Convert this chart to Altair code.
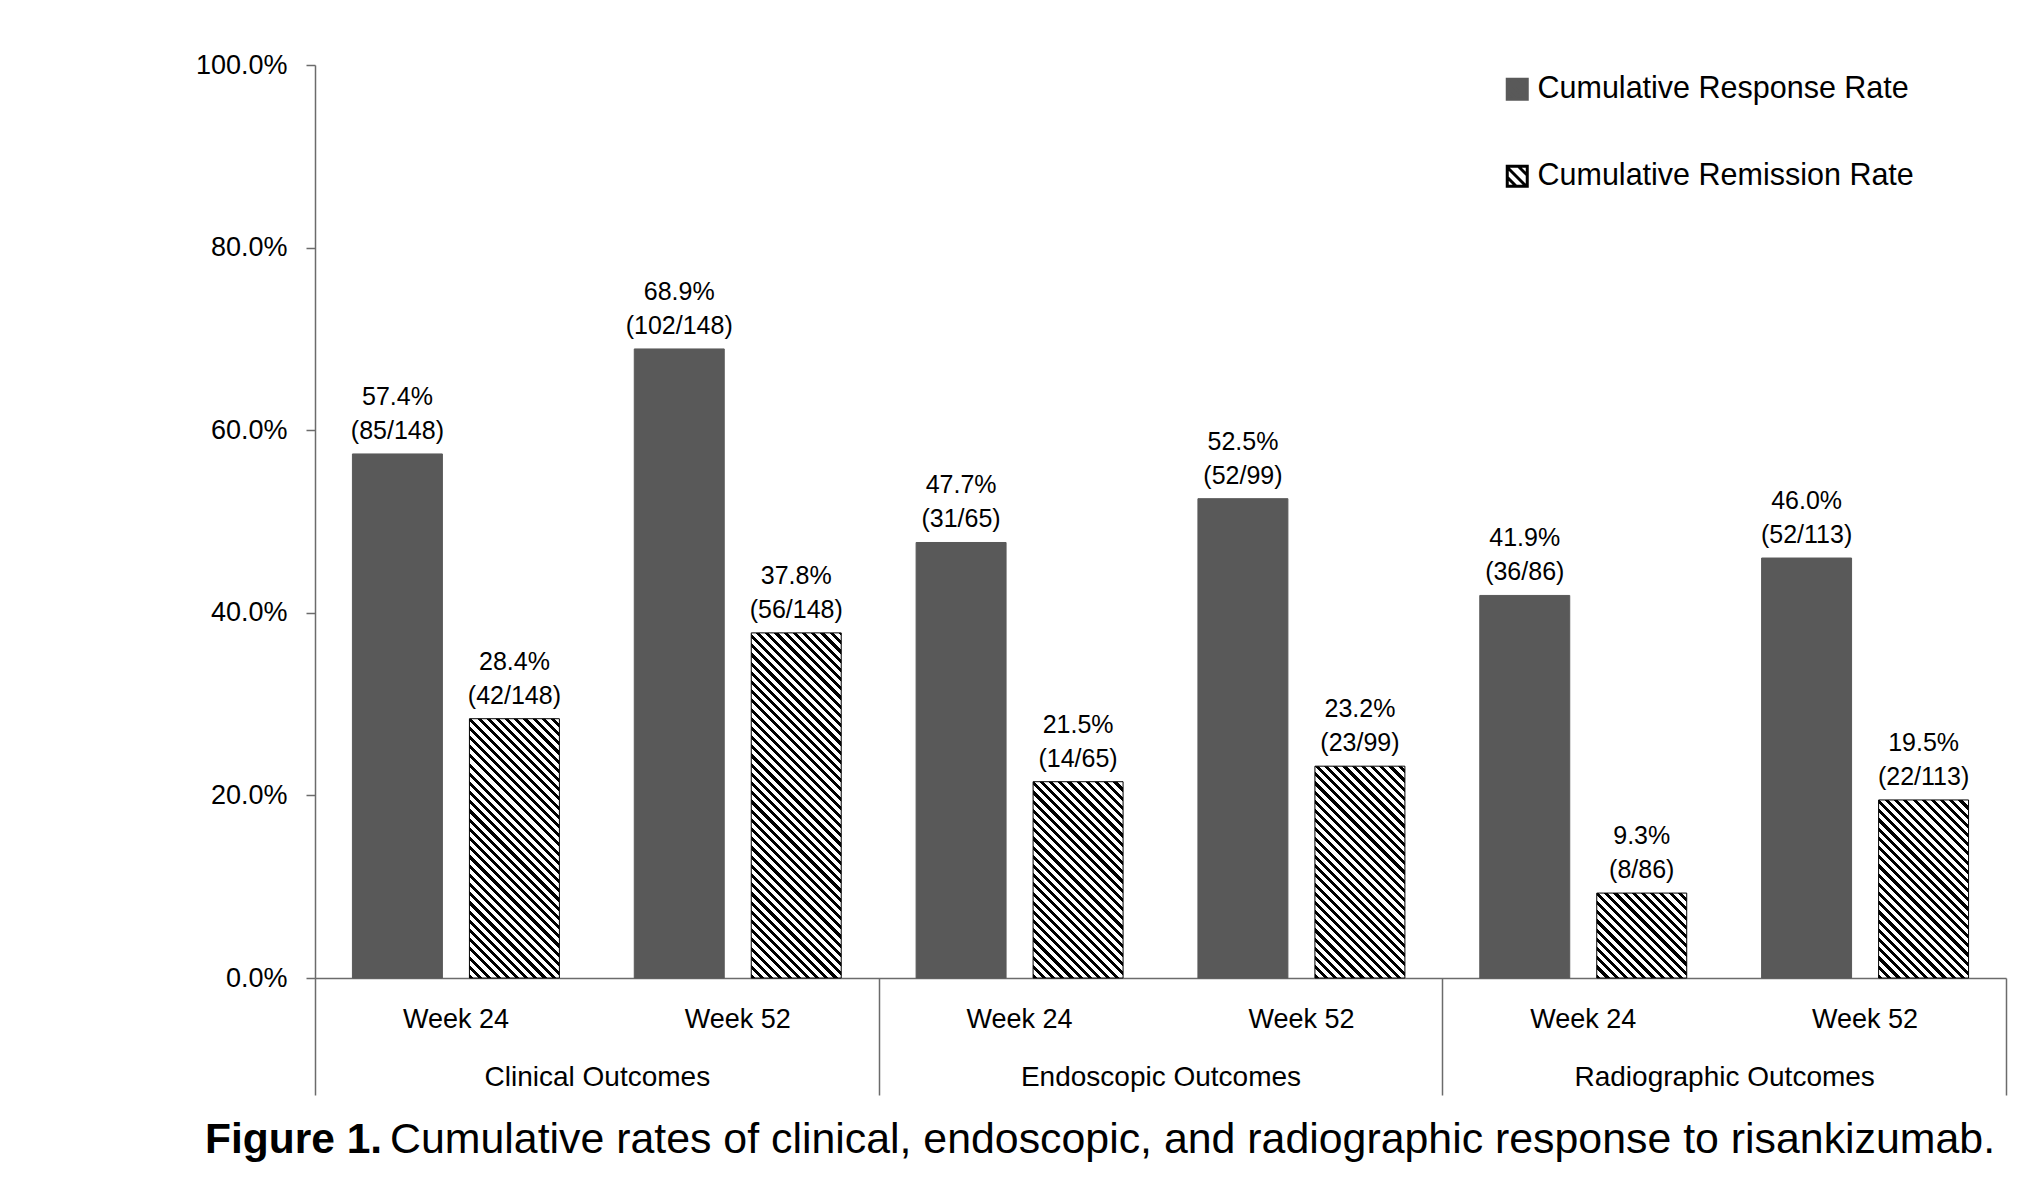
import math
import altair as alt
import pandas as pd

# ---------------- data ----------------
outcomes = ["Clinical Outcomes", "Endoscopic Outcomes", "Radiographic Outcomes"]
weeks = ["Week 24", "Week 52"]
series_names = ["Cumulative Response Rate", "Cumulative Remission Rate"]
response_pct = [57.4, 68.9, 47.7, 52.5, 41.9, 46.0]
response_frac = ["85/148", "102/148", "31/65", "52/99", "36/86", "52/113"]
remission_pct = [28.4, 37.8, 21.5, 23.2, 9.3, 19.5]
remission_frac = ["42/148", "56/148", "14/65", "23/99", "8/86", "22/113"]
y_ticks = [0, 20, 40, 60, 80, 100]
caption_bold = "Figure 1."
caption_text = "Cumulative rates of clinical, endoscopic, and radiographic response to risankizumab."

# ---------------- layout / style ----------------
W, H = 1691, 913
FONT = "Liberation Sans"
AX = "#6b6b6b"
DARK = "#595959"
PAD_IN, PAD_OUT = 0.231, 0.32
slot_w = W / (len(outcomes) * len(weeks))
step = slot_w / (2 - PAD_IN + 2 * PAD_OUT)
bar_w = step * (1 - PAD_IN)

slots = [o + "|" + w for o in outcomes for w in weeks]
rows = []
for i, slot in enumerate(slots):
    o = slot.split("|")[0]
    for s, pcts, fracs in [(series_names[0], response_pct, response_frac),
                           (series_names[1], remission_pct, remission_frac)]:
        rows.append(dict(outcome=o, slot=slot, series=s, pct=pcts[i],
                         label=f"{pcts[i]:.1f}%\n({fracs[i]})",
                         key=slot + "|" + s))
df = pd.DataFrame(rows)


def hatch(w, h, period=6.5, black=0.45):
    """Diagonal (\\) stripes as a hard-stop linear gradient in bbox units."""
    r = h / w
    k = (1 + r) / (1 + r * r)
    n = (w + h) / (math.sqrt(2) * period)
    stops = []
    j = 0
    while j / n < 1:
        a = round(j / n, 5)
        b = round(min((j + black) / n, 1), 5)
        stops += [{"offset": a, "color": "#ffffff"}, {"offset": a, "color": "#000000"},
                  {"offset": b, "color": "#000000"}, {"offset": b, "color": "#ffffff"}]
        j += 1
    return {"gradient": "linear", "x1": 0, "y1": 1, "x2": round(k, 5),
            "y2": round(1 - k * r, 5), "stops": stops}


conds = []
for _, rw in df[df.series == series_names[1]].iterrows():
    conds.append({"test": f"datum.key === '{rw.key}'",
                  "value": hatch(bar_w, rw.pct / 100 * H)})

HATCH_PATH = ("M-1,-1H1V1H-1Z"
              "M-1,0.1L-0.1,1M-1,-0.9L0.9,1M0.1,-1L1,-0.1")

legend = alt.Legend(title=None, orient="none", legendX=1187, legendY=9,
                    direction="vertical", symbolType=HATCH_PATH, symbolSize=400,
                    symbolStrokeWidth=3, labelFontSize=30.5, labelFont=FONT,
                    labelColor="black", labelOffset=5, rowPadding=54, padding=0,
                    labelLimit=1000)

x_slot = alt.X("slot:N", sort=slots,
               scale=alt.Scale(domain=slots, paddingInner=0, paddingOuter=0),
               axis=alt.Axis(title=None, labelExpr="split(datum.label, '|')[1]",
                             ticks=False, labelAngle=0, labelPadding=28,
                             labelFontSize=27, labelColor="black", labelLimit=1000,
                             domainColor=AX, domainWidth=1.5, grid=False))
x_off = alt.XOffset("series:N", sort=series_names,
                    scale=alt.Scale(domain=series_names, paddingInner=PAD_IN,
                                    paddingOuter=PAD_OUT))
y_enc = alt.Y("pct:Q", scale=alt.Scale(domain=[0, 100]),
              axis=alt.Axis(values=y_ticks, title=None, grid=False,
                            labelExpr="format(datum.value, '.1f') + '%'",
                            tickSize=9, labelPadding=19, labelFontSize=27,
                            labelColor="black", labelFlush=False,
                            domainColor=AX, domainWidth=1.5, tickColor=AX,
                            tickWidth=1.5))

bars = alt.Chart(df).mark_bar(strokeWidth=1).encode(
    x=x_slot, xOffset=x_off, y=y_enc,
    fill=alt.Fill("series:N",
                  scale=alt.Scale(domain=series_names, range=[DARK, "#ffffff"]),
                  legend=legend, condition=conds),
    stroke=alt.Stroke("series:N",
                      scale=alt.Scale(domain=series_names, range=[DARK, "#000000"]),
                      legend=legend),
)

labels = alt.Chart(df).mark_text(baseline="bottom", dy=-44, fontSize=25, font=FONT,
                                 color="black", lineBreak="\n", lineHeight=34).encode(
    x=x_slot, xOffset=x_off, y="pct:Q", text="label:N")

inner = alt.layer(bars, labels)

groups = alt.Chart(pd.DataFrame({"outcome": outcomes})).mark_point(opacity=0).encode(
    x=alt.X("outcome:N", sort=outcomes,
            scale=alt.Scale(domain=outcomes, paddingInner=0, paddingOuter=0),
            axis=alt.Axis(title=None, orient="bottom", domain=False,
                          tickBand="extent", tickSize=117, tickColor=AX,
                          tickWidth=1.5, labelPadding=-32, labelFontSize=28,
                          labelAngle=0, labelColor="black", labelLimit=1000,
                          grid=False)),
    y=alt.value(0))

cap_bold = alt.Chart(pd.DataFrame({"t": [caption_bold]})).mark_text(
    align="left", baseline="alphabetic", fontSize=42.5, font=FONT,
    fontWeight="bold", color="black").encode(
    x=alt.value(-110), y=alt.value(1088), text="t:N")
cap_rest = alt.Chart(pd.DataFrame({"t": [caption_text]})).mark_text(
    align="left", baseline="alphabetic", fontSize=42.85, font=FONT,
    color="black").encode(
    x=alt.value(75), y=alt.value(1088), text="t:N")

chart = alt.layer(inner, groups, cap_bold, cap_rest).resolve_scale(
    x="independent"
).properties(
    width=W, height=H,
    autosize=alt.AutoSizeParams(type="none"),
    padding={"left": 307, "top": 57, "right": 30, "bottom": 195},
).configure(font=FONT).configure_view(stroke=None)

chart.save("out.html", embed_options={"renderer": "svg", "actions": False})
